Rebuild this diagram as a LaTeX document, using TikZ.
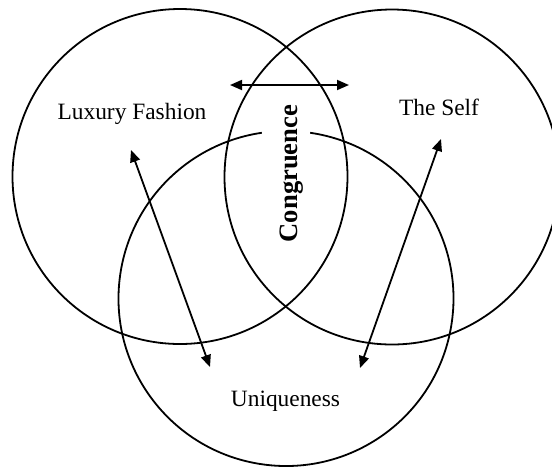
\documentclass[tikz,border=0pt]{standalone}
\usepackage{fontspec}
\setmainfont{Liberation Serif}
\usetikzlibrary{arrows.meta}
\begin{document}
\begin{tikzpicture}[x=0.5pt,y=-0.5pt,line width=0.9pt,
  setname/.style={font=\fontsize{11.7}{14}\selectfont,anchor=base,inner sep=0pt},
  both/.style={{Triangle[length=6pt,width=5pt]}-{Triangle[length=6pt,width=5pt]}}]
\useasboundingbox (0,0) rectangle (552,468);
% Draw the three circles
\draw (180,176.5) circle (167.5);
\draw (392,177) circle (167.5);
\draw (286,298.5) ++(-81.7:167.5) arc (-81.7:261.7:167.5);

% Set names
\node[setname] (lux) at (132,119) {Luxury Fashion};
\node[setname] (self) at (439,115) {The Self};
\node[setname] (uniq) at (285.5,406) {Uniqueness};
\node[setname,font=\fontsize{13.3}{16}\selectfont\bfseries,rotate=90] (cong) at (297,173.5) {Congruence};

% Arrow ends
\coordinate (hl) at (230,85);
\coordinate (hr) at (349,85);
\coordinate (lt) at (131,150);
\coordinate (lb) at (210,367);
\coordinate (rt) at (441,139);
\coordinate (rb) at (360,368);

\draw[both] (hl) -- (hr);
\draw[both] (lt) -- (lb);
\draw[both] (rt) -- (rb);
\end{tikzpicture}
\end{document}
